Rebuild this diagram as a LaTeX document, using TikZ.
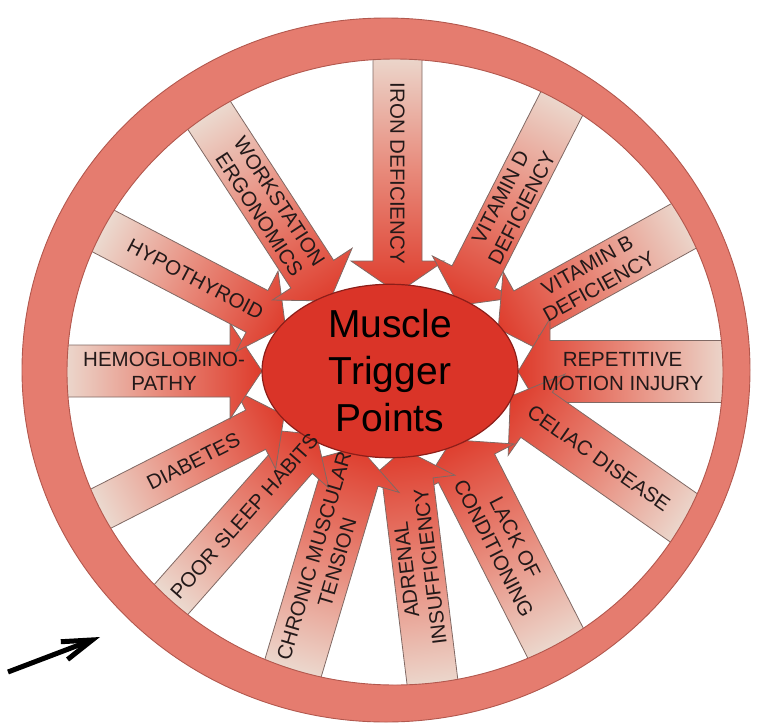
\documentclass[tikz,border=0pt]{standalone}
\usepackage{fontspec}
\setmainfont{Liberation Sans}
\usetikzlibrary{shapes.geometric,arrows.meta}
\definecolor{rimred}{RGB}{229,124,111}
\definecolor{rimedge}{RGB}{178,88,78}
\definecolor{hubred}{RGB}{218,52,40}
\definecolor{hubedge}{RGB}{140,30,25}
\definecolor{spokelight}{RGB}{236,226,216}
\definecolor{spokemid}{RGB}{232,140,125}
\definecolor{spokered}{RGB}{222,60,44}
\definecolor{spokeedge}{RGB}{128,105,100}
\definecolor{labeltext}{RGB}{35,25,25}

\def\spokelist{
  iron/397.5/58/-90/235/49/0/{IRON DEFICIENCY},
  vitd/561.5/104/243/226/48/1/{VITAMIN D\\DEFICIENCY},
  vitb/684.5/225.5/209/213/51/1/{VITAMIN B\\DEFICIENCY},
  repetitive/723/371.5/180/205/62/1/{REPETITIVE\\MOTION INJURY},
  celiac/684/518/145/212/55/1/{CELIAC DISEASE},
  conditioning/555/642/117/227/63/1/{LACK OF\\CONDITIONING},
  adrenal/432.5/682.5/97/235/51/0/{ADRENAL\\INSUFFICIENCY},
  tension/293.5/666.5/73.4/229/59/0/{CHRONIC MUSCULAR\\TENSION},
  sleep/175/595/48.6/214/45/0/{POOR SLEEP HABITS},
  diabetes/106/506/27/200/44/0/{DIABETES},
  hemoglobin/70/371/0/192/52/0/{HEMOGLOBINO-\\PATHY},
  hypothyroid/109/234/-27.6/199/47/0/{HYPOTHYROID},
  ergonomics/211.5/119/-57/217/51/0/{WORKSTATION\\ERGONOMICS}}

\begin{document}
\begin{tikzpicture}[x=1pt, y=-1pt,
  spoke/.style={left color=spokelight, right color=spokered, middle color=spokemid, draw=spokeedge, line width=0.8pt},
  spokelabel/.style={align=center, text=labeltext, font=\fontsize{20.5}{24}\selectfont, inner sep=0pt},
  hub/.style={ellipse, draw=hubedge, fill=hubred, line width=1.2pt, minimum width=256pt, minimum height=156pt, inner sep=0pt, align=center, text=black, font=\fontsize{39}{47}\selectfont},
  rim/.style={fill=rimred, draw=rimedge, line width=0.9pt, even odd rule},
  pointer/.style={line width=5pt, -{Straight Barb[length=30pt, width=19pt]}}]
\useasboundingbox (0,0) rectangle (758,726);
\foreach \spname/\spx/\spy/\sprot/\splen/\spw/\spflip/\sptext in \spokelist
{
  \begin{scope}[transform canvas={shift={(\spx,\spy)}, rotate=\sprot}]
    \shade[spoke] (-18,-\spw/2) -- (\splen-32,-\spw/2) -- (\splen-32,-\spw/2-22) -- (\splen,0)
      -- (\splen-32,\spw/2+22) -- (\splen-32,\spw/2) -- (-18,\spw/2) -- cycle;
  \end{scope}
}
\path[rim] (386,370) ellipse [x radius=364pt, y radius=352pt] (395,372) ellipse [x radius=328pt, y radius=313pt];
\node[hub] (hub) at (390,371) {Muscle\\Trigger\\Points};
\foreach \spname/\spx/\spy/\sprot/\splen/\spw/\spflip/\sptext in \spokelist
{
  \begin{scope}[transform canvas={shift={(\spx,\spy)}, rotate=\sprot}]
    \node[spokelabel, rotate=180*\spflip] (\spname) at (0.49*\splen,0) {\sptext};
  \end{scope}
}
\coordinate (pointer tail) at (8,672);
\coordinate (pointer tip) at (100,637);
\draw[pointer] (pointer tail) -- (pointer tip);
\end{tikzpicture}
\end{document}
